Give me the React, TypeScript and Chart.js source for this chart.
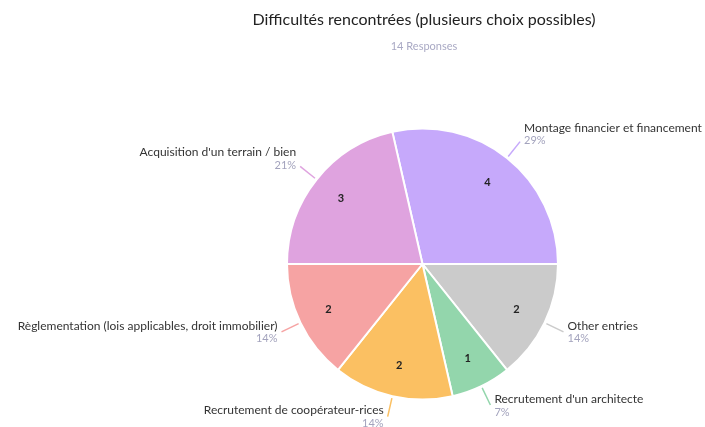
import React, { useEffect, useRef } from "react";
import { Chart, registerables } from "chart.js";

Chart.register(...registerables);

const TITLE = "Difficultés rencontrées (plusieurs choix possibles)";
const SUBTITLE = "14 Responses";
const categories = [
  "Montage financier et financement",
  "Other entries",
  "Recrutement d'un architecte",
  "Recrutement de coopérateur-rices",
  "Règlementation (lois applicables, droit immobilier)",
  "Acquisition d'un terrain / bien",
];
const values = [4, 2, 1, 2, 2, 3];
const percentLabels = ["29%", "14%", "7%", "14%", "14%", "21%"];
const colors = ["#c6a9fb", "#cbcbcb", "#93d6ac", "#fbc062", "#f6a3a3", "#dfa3df"];

const FONT = "Lato, 'Open Sans', sans-serif";

const labelPlugin = {
  id: "pieLabels",
  afterDatasetsDraw(chart: any) {
    const ctx = chart.ctx as CanvasRenderingContext2D;
    const meta = chart.getDatasetMeta(0);
    ctx.save();
    // title
    ctx.textAlign = "center";
    ctx.textBaseline = "middle";
    ctx.fillStyle = "#222222";
    ctx.font = `16px ${FONT}`;
    ctx.fillText(TITLE, 424, 20);
    ctx.fillStyle = "#a9a9c4";
    ctx.font = `11px ${FONT}`;
    ctx.fillText(SUBTITLE, 424, 46);

    meta.data.forEach((arc: any, i: number) => {
      const { x, y, startAngle, endAngle, outerRadius } = arc.getProps(
        ["x", "y", "startAngle", "endAngle", "outerRadius"],
        true
      );
      const mid = (startAngle + endAngle) / 2;
      const c = Math.cos(mid);
      const s = Math.sin(mid);
      // value inside
      const vr = outerRadius * 0.77;
      ctx.fillStyle = "#222222";
      ctx.font = `bold 11px ${FONT}`;
      ctx.textAlign = "center";
      ctx.textBaseline = "middle";
      ctx.fillText(String(values[i]), x + c * vr, y + s * vr);
      // leader line
      const x1 = x + c * (outerRadius + 2);
      const y1 = y + s * (outerRadius + 2);
      const x2 = x + c * (outerRadius + 21);
      const y2 = y + s * (outerRadius + 21);
      ctx.strokeStyle = colors[i];
      ctx.lineWidth = 1.5;
      ctx.beginPath();
      ctx.moveTo(x1, y1);
      ctx.lineTo(x2, y2);
      ctx.stroke();
      // text
      const right = c >= 0;
      const tx = right ? x2 + 4 : x2 - 4;
      ctx.textAlign = right ? "left" : "right";
      let ny, py;
      if (s < 0) {
        ny = y2 - 14;
        py = y2 - 1;
      } else {
        ny = y2 - 6;
        py = y2 + 7;
      }
      ctx.fillStyle = "#333333";
      ctx.font = `12px ${FONT}`;
      ctx.fillText(categories[i], tx, ny);
      ctx.fillStyle = "#a3a3bd";
      ctx.font = `11px ${FONT}`;
      ctx.fillText(percentLabels[i], tx, py);
    });
    ctx.restore();
  },
};

export default function App() {
  const ref = useRef<HTMLCanvasElement | null>(null);
  useEffect(() => {
    document.body.style.margin = "0";
    const total = values.reduce((a, b) => a + b, 0);
    const chart = new Chart(ref.current as HTMLCanvasElement, {
      type: "pie",
      data: {
        labels: categories,
        datasets: [
          {
            data: values,
            backgroundColor: colors,
            borderColor: "#ffffff",
            borderWidth: 2,
          },
        ],
      },
      options: {
        responsive: false,
        animation: false,
        rotation: 90 - (values[0] / total) * 360,
        layout: { padding: { top: 127, bottom: 26, left: 286, right: 146 } },
        plugins: {
          legend: { display: false },
          tooltip: { enabled: false },
          title: { display: false },
        },
      },
      plugins: [labelPlugin],
    });
    return () => chart.destroy();
  }, []);
  return (
    <div style={{ width: 705, height: 427, background: "#fff" }}>
      <canvas ref={ref} width={705} height={427} />
    </div>
  );
}
